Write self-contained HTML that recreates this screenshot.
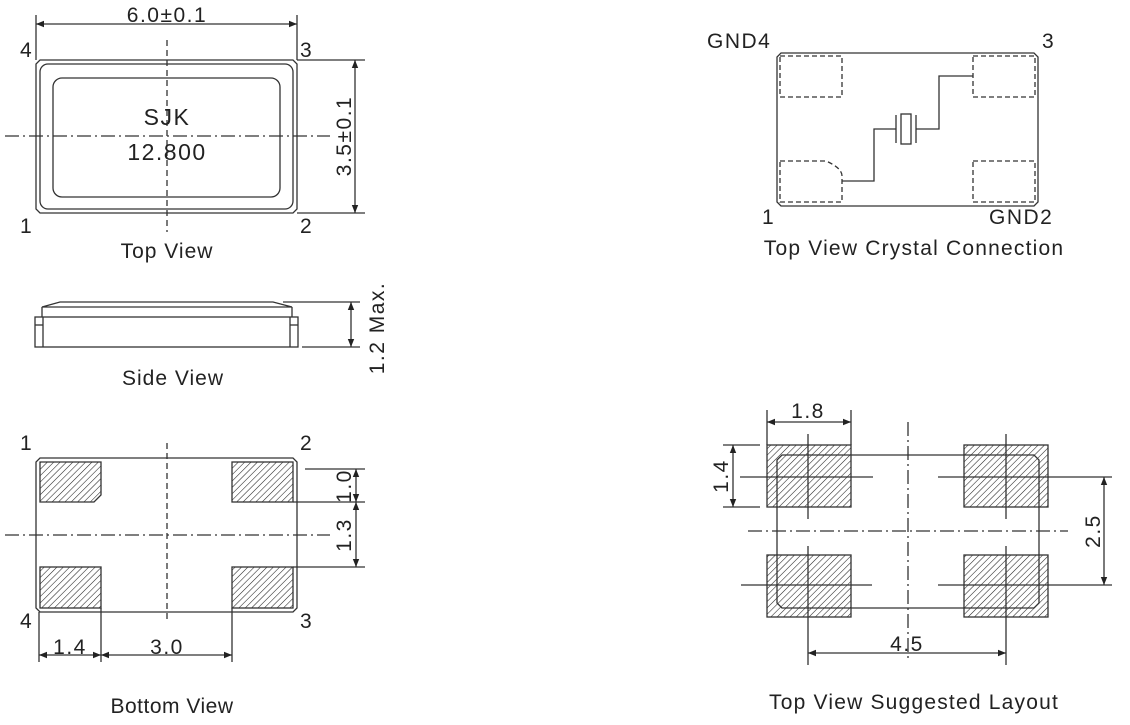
<!DOCTYPE html>
<html><head><meta charset="utf-8"><style>
html,body{margin:0;padding:0;background:#fff;}
svg{display:block;}
text{font-family:"Liberation Sans",sans-serif;fill:#222;}
</style></head><body>
<svg width="1130" height="725" viewBox="0 0 1130 725" xmlns="http://www.w3.org/2000/svg">
<defs>
<pattern id="h" width="4.5" height="4.5" patternUnits="userSpaceOnUse" patternTransform="rotate(45)">
<line x1="0" y1="0" x2="0" y2="4.5" stroke="#222" stroke-width="1.1"/>
</pattern>
<marker id="a" viewBox="0 0 10 10" refX="10" refY="5" markerWidth="10" markerHeight="8" orient="auto-start-reverse" markerUnits="userSpaceOnUse">
<path d="M0,1 L10,5 L0,9 z" fill="#222"/>
</marker>
</defs>
<g stroke="#333" fill="none" stroke-width="1.3">
<!-- TOP VIEW -->
<path d="M40,60 H293 L297,64 V209 L293,213 H40 L36,209 V64 Z"/>
<rect x="40" y="64" width="253" height="145" rx="8"/>
<rect x="53" y="78" width="227" height="119" rx="9"/>
<line x1="167" y1="40" x2="167" y2="232" stroke-dasharray="6,4"/>
<line x1="5" y1="136" x2="330" y2="136" stroke-dasharray="14,4,2,4"/>
<line x1="36" y1="15" x2="36" y2="60"/><line x1="297" y1="15" x2="297" y2="60"/>
<line x1="36" y1="24" x2="297" y2="24" marker-start="url(#a)" marker-end="url(#a)"/>
<line x1="297" y1="60" x2="365" y2="60"/><line x1="297" y1="213" x2="365" y2="213"/>
<line x1="355" y1="60" x2="355" y2="213" marker-start="url(#a)" marker-end="url(#a)"/>
<!-- SIDE VIEW -->
<path d="M60,302 H273 L292,307 H42 Z"/>
<path d="M42,307 V317 M292,307 V317"/>
<rect x="35" y="317" width="263" height="30"/>
<line x1="43" y1="317" x2="43" y2="347"/><line x1="290" y1="317" x2="290" y2="347"/>
<line x1="35" y1="325" x2="43" y2="325"/><line x1="290" y1="325" x2="298" y2="325"/>
<line x1="283" y1="302" x2="360" y2="302"/><line x1="302" y1="347" x2="360" y2="347"/>
<line x1="351" y1="302" x2="351" y2="347" marker-start="url(#a)" marker-end="url(#a)"/>
<!-- BOTTOM VIEW -->
<path d="M40,458 H293 L297,462 V608 L293,612 H40 L36,608 V462 Z"/>
<path d="M40,462 H101 V495 L94,502 H40 Z" fill="url(#h)"/>
<rect x="232" y="462" width="61" height="40" fill="url(#h)"/>
<rect x="40" y="567" width="61" height="41" fill="url(#h)"/>
<rect x="232" y="567" width="61" height="41" fill="url(#h)"/>
<line x1="167" y1="443" x2="167" y2="622" stroke-dasharray="6,4"/>
<line x1="5" y1="535" x2="330" y2="535" stroke-dasharray="14,4,2,4"/>
<line x1="305" y1="469" x2="365" y2="469"/><line x1="293" y1="502" x2="365" y2="502"/><line x1="293" y1="567" x2="365" y2="567"/>
<line x1="356" y1="469" x2="356" y2="502" marker-start="url(#a)" marker-end="url(#a)"/>
<line x1="356" y1="502" x2="356" y2="567" marker-start="url(#a)" marker-end="url(#a)"/>
<line x1="39" y1="612" x2="39" y2="662"/><line x1="101" y1="608" x2="101" y2="662"/><line x1="232" y1="608" x2="232" y2="662"/>
<line x1="39" y1="655" x2="101" y2="655" marker-start="url(#a)" marker-end="url(#a)"/>
<line x1="101" y1="655" x2="232" y2="655" marker-start="url(#a)" marker-end="url(#a)"/>
<!-- CRYSTAL CONNECTION -->
<path d="M781,53 H1034 L1038,57 V202 L1034,206 H781 L777,202 V57 Z"/>
<g stroke-dasharray="5,3">
<rect x="780" y="56" width="62" height="41"/>
<rect x="973" y="56" width="62" height="41"/>
<path d="M780,161 H826 Q842,168 842,176 V202 H780 Z"/>
<rect x="973" y="161" width="62" height="41"/>
</g>
<path d="M842,181 H874 V129 H896 M916,129 H939 V76 H973"/>
<line x1="896" y1="115" x2="896" y2="143"/><line x1="916" y1="115" x2="916" y2="143"/>
<rect x="901" y="114" width="10" height="30"/>
<!-- SUGGESTED LAYOUT -->
<rect x="767" y="445" width="84" height="62" fill="url(#h)"/>
<rect x="964" y="445" width="84" height="62" fill="url(#h)"/>
<rect x="767" y="555" width="84" height="62" fill="url(#h)"/>
<rect x="964" y="555" width="84" height="62" fill="url(#h)"/>
<path d="M782,455 H1034 L1039,460 V603 L1034,608 H782 L777,603 V460 Z"/>
<line x1="740" y1="477" x2="873" y2="477"/><line x1="938" y1="477" x2="1112" y2="477"/>
<line x1="741" y1="585" x2="872" y2="585"/><line x1="938" y1="585" x2="1112" y2="585"/>
<line x1="808" y1="434" x2="808" y2="519"/><line x1="808" y1="546" x2="808" y2="665"/>
<line x1="1006" y1="434" x2="1006" y2="519"/><line x1="1006" y1="546" x2="1006" y2="665"/>
<line x1="908" y1="422" x2="908" y2="660" stroke-dasharray="14,4,2,4"/>
<line x1="748" y1="531" x2="1068" y2="531" stroke-dasharray="14,4,2,4"/>
<line x1="767" y1="410" x2="767" y2="445"/><line x1="851" y1="410" x2="851" y2="445"/>
<line x1="767" y1="422" x2="851" y2="422" marker-start="url(#a)" marker-end="url(#a)"/>
<line x1="723" y1="445" x2="760" y2="445"/><line x1="723" y1="507" x2="760" y2="507"/>
<line x1="733" y1="445" x2="733" y2="507" marker-start="url(#a)" marker-end="url(#a)"/>
<line x1="1104" y1="477" x2="1104" y2="585" marker-start="url(#a)" marker-end="url(#a)"/>
<line x1="808" y1="653" x2="1006" y2="653" marker-start="url(#a)" marker-end="url(#a)"/>
</g>
<g font-size="21" letter-spacing="1.5">
<text x="167" y="22" text-anchor="middle">6.0±0.1</text>
<text x="20" y="57">4</text><text x="300" y="57">3</text>
<text x="20" y="233">1</text><text x="300" y="233">2</text>
<text x="167" y="125" text-anchor="middle" font-size="23">SJK</text>
<text x="167" y="160" text-anchor="middle" font-size="23">12.800</text>
<text transform="translate(351,136) rotate(-90)" text-anchor="middle">3.5±0.1</text>
<text x="167" y="258" text-anchor="middle" font-size="21" letter-spacing="1">Top View</text>
<text transform="translate(384,328) rotate(-90)" text-anchor="middle">1.2 Max.</text>
<text x="173" y="385" text-anchor="middle" font-size="21" letter-spacing="1">Side View</text>
<text x="20" y="450">1</text><text x="300" y="450">2</text>
<text x="20" y="628">4</text><text x="300" y="628">3</text>
<text transform="translate(351,486) rotate(-90)" text-anchor="middle">1.0</text>
<text transform="translate(351,535) rotate(-90)" text-anchor="middle">1.3</text>
<text x="70" y="654" text-anchor="middle">1.4</text>
<text x="167" y="654" text-anchor="middle">3.0</text>
<text x="172" y="713" text-anchor="middle" font-size="21" letter-spacing="0.5">Bottom View</text>
<text x="707" y="48">GND4</text><text x="1042" y="48">3</text>
<text x="762" y="224">1</text><text x="989" y="224">GND2</text>
<text x="914" y="255" text-anchor="middle" font-size="21" letter-spacing="1.2">Top View Crystal Connection</text>
<text x="808" y="418" text-anchor="middle">1.8</text>
<text transform="translate(728,476) rotate(-90)" text-anchor="middle">1.4</text>
<text transform="translate(1100,531) rotate(-90)" text-anchor="middle">2.5</text>
<text x="907" y="651" text-anchor="middle">4.5</text>
<text x="914" y="709" text-anchor="middle" font-size="21" letter-spacing="1.2">Top View Suggested Layout</text>
</g>
</svg>
</body></html>
